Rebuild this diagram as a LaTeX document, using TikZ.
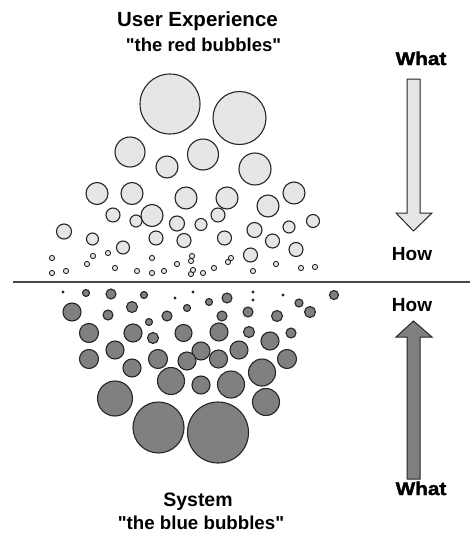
\documentclass[tikz,border=0pt]{standalone}
\usepackage{fontspec}
\setmainfont{Liberation Sans}[Ligatures=TeXOff]
\newfontfamily\heavyfont{Liberation Sans}[Ligatures=TeXOff,BoldFeatures={FakeBold=2,FakeStretch=1.12}]
\definecolor{lightb}{HTML}{E6E6E6}
\definecolor{darkb}{HTML}{808080}
\definecolor{edge}{HTML}{262626}
\tikzset{
  upb/.style={draw=edge,fill=lightb,line width=1.1pt},
  lob/.style={draw=edge,fill=darkb,line width=1.1pt},
  tinyup/.style={draw=edge,fill=lightb,line width=0.9pt},
  lbl/.style={anchor=base,inner sep=0pt,font=\bfseries},
  arr/.style={draw=edge,line width=1pt,line join=miter}
}
\begin{document}
\begin{tikzpicture}[x=1pt,y=-1pt]
\useasboundingbox (0,0) rectangle (470,533);
% titles
\node[lbl] (ux) at (197.5,26.7) {\fontsize{20.5}{24}\selectfont\bfseries User Experience};
\node[lbl] (red) at (203.5,51.7) {\fontsize{18.5}{22}\selectfont\bfseries "the red bubbles"};
\node[lbl] (sys) at (198,506.5) {\fontsize{19.5}{23}\selectfont\bfseries System};
\node[lbl] (blue) at (201,529) {\fontsize{18.7}{22}\selectfont\bfseries "the blue bubbles"};
% arrow labels
\node[lbl] (what1) at (421,65) {\fontsize{18.5}{22}\selectfont\heavyfont\bfseries What};
\node[lbl] (how1) at (412,260) {\fontsize{19}{22}\selectfont\bfseries How};
\node[lbl] (how2) at (412,311) {\fontsize{19}{22}\selectfont\bfseries How};
\node[lbl] (what2) at (421,495) {\fontsize{18.5}{22}\selectfont\heavyfont\bfseries What};
% arrows
\draw[arr,fill=lightb] (407,79) -- (420,79) -- (420,213) -- (432,213) -- (413.5,231) -- (396,213) -- (407,213) -- cycle;
\draw[arr,fill=darkb] (407,479) -- (420,479) -- (420,337) -- (432,337) -- (413.5,321) -- (396,337) -- (407,337) -- cycle;
% separator
\draw[draw=edge!85,line width=1.3pt] (13,282) -- (470,282);
% upper bubbles
\foreach \x/\y/\r in {170/104/30, 239.5/118/26.5,
  130/152/15, 203/154.5/15.5, 167/167/11, 255/169/16,
  97/193.5/11, 132/193.5/11, 186/198/11, 227/198/11, 294/193/11, 268/206/11,
  152/215.5/11, 113/215/7, 218/215/7, 136/221/6, 177/223.5/7.5, 201/224.5/6, 313/221/6.5,
  64/231.5/7.5, 92.5/239/6, 123/247.5/6.5, 156/238/7, 184/240.5/7, 224.5/238/7,
  254.5/230/7.5, 289/227/6, 272.5/241/7, 296/249.5/7, 250.5/255/7}
  \draw[upb] (\x,\y) circle[radius=\r pt];
\foreach \x/\y in {52/258, 52/273, 66/271, 87/264, 93/256, 108/253, 115/268, 137/271,
  152/258, 152/273, 164/271, 177/264, 192/256, 191/261, 191/274, 193/270, 203/273,
  214/268, 228/262, 231/258, 253/271, 276/264, 301/268, 315/267}
  \draw[tinyup] (\x,\y) circle[radius=2.6pt];
% lower bubbles
\foreach \x/\y/\r in {86/293/3.5, 111/294/5, 144/295/3.5, 209/302/3.5, 227/298/5,
  299/303/4, 334/295/4.5,
  72/312/9, 108/315/5, 132/307/5.5, 149/322/3.5, 167/316/5, 187/308/3.5,
  222/316/5, 248/312/5, 277/316/5.5, 310/312/5.5,
  89/333/9.5, 133/333/9, 153/338/5.5, 183.5/333/8.5, 219/332/9, 249/332/5.5,
  270/341/9, 291/333/5,
  115/350/9, 201/351/9, 239/350/9,
  89/359/9.5, 158/359/9.5, 187/361/9, 218.5/359/9, 287/359/9.5, 132/368/9,
  171/381/13.5, 201/385/9, 231/384.5/13.5, 262/372.5/13.5,
  115/398.5/17.5, 266/402/13.5,
  158.5/427.5/25.5, 218/432.5/30.5}
  \draw[lob] (\x,\y) circle[radius=\r pt];
\foreach \x/\y in {63/292, 175/298, 193/292, 253/292, 253/300, 283/295}
  \fill[edge] (\x,\y) circle[radius=1.6pt];
\end{tikzpicture}
\end{document}
